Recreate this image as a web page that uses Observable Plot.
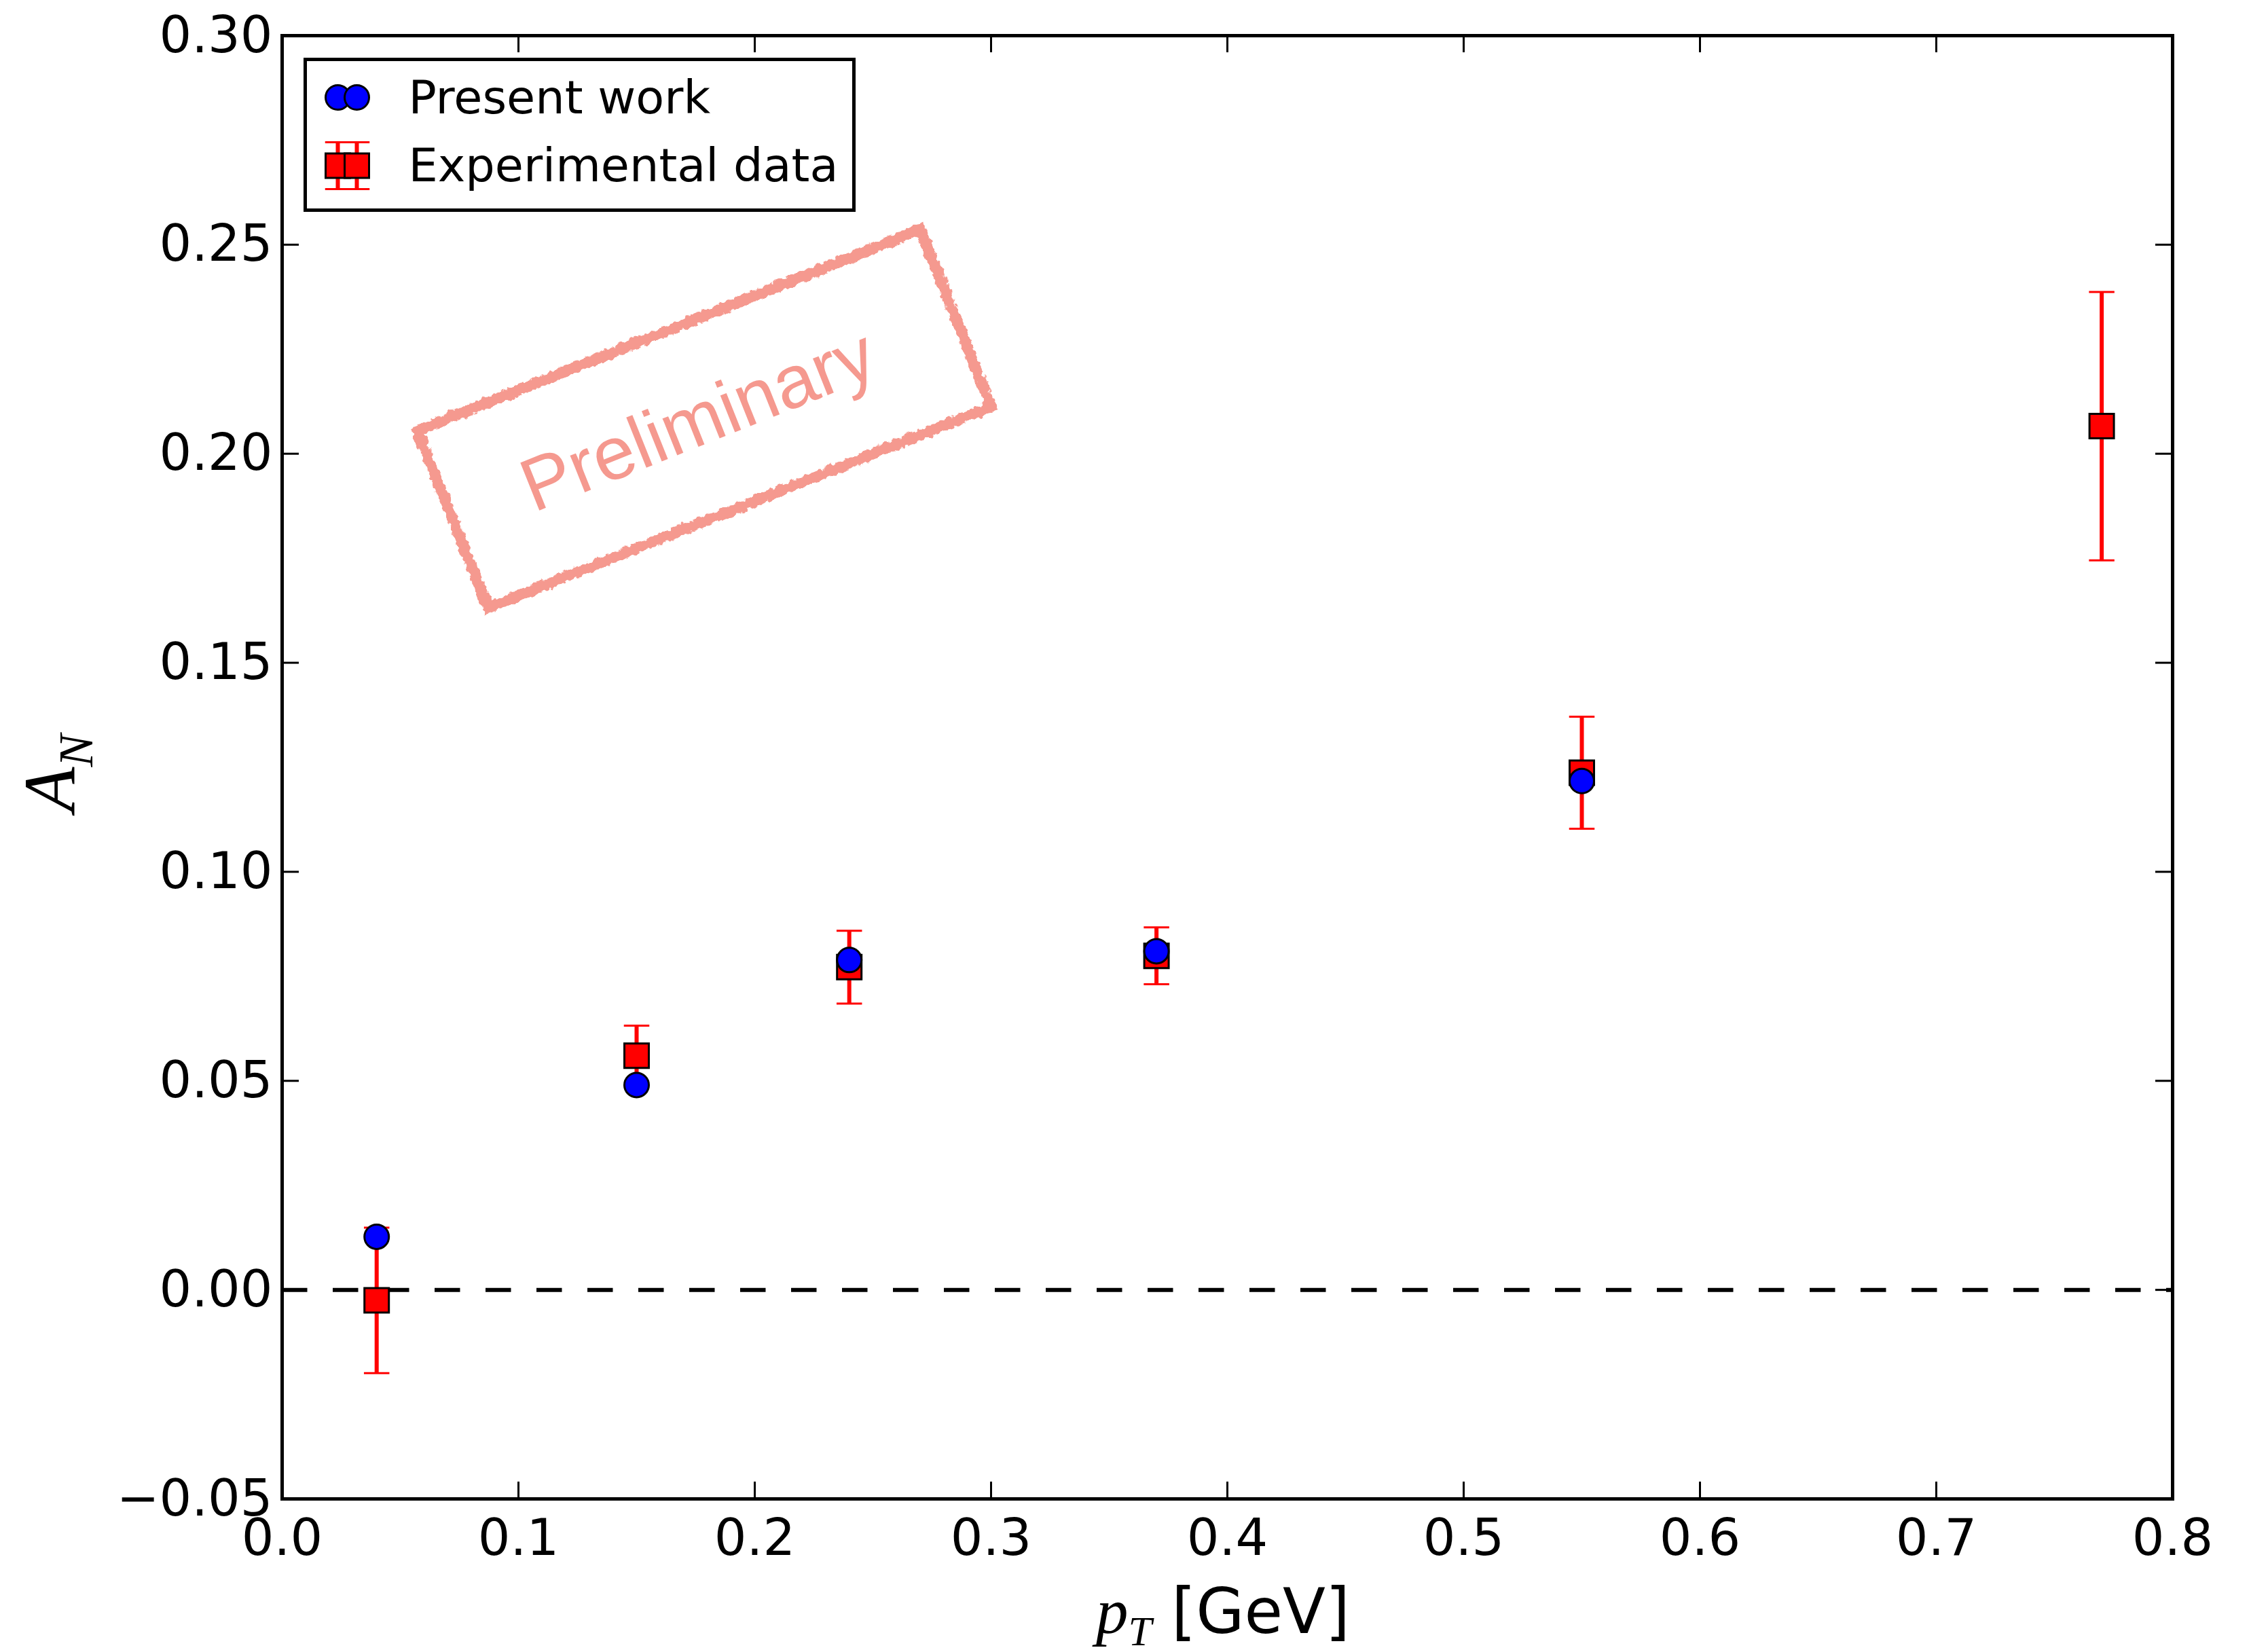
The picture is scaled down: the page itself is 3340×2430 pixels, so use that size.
<!DOCTYPE html>
<html>
<head>
<meta charset="utf-8">
<script src="https://cdn.jsdelivr.net/npm/d3@7"></script>
<script src="https://cdn.jsdelivr.net/npm/@observablehq/plot@0.6"></script>
<style>
  html, body { margin: 0; padding: 0; background: #ffffff; overflow: hidden; }
  #chart svg { display: block; }
</style>
</head>
<body>
<div id="chart"></div>
<script>
// ---------------- data ----------------
const expPT   = [0.04, 0.15, 0.24, 0.37, 0.55, 0.77];
const expAN   = [-0.0025, 0.056, 0.0772, 0.0799, 0.1237, 0.2066];
const expErr  = [0.0174, 0.0072, 0.0087, 0.0068, 0.0134, 0.0321];

const modelPT = [0.04, 0.15, 0.24, 0.37, 0.55];
const modelAN = [0.0127, 0.049, 0.0789, 0.081, 0.1217];

const xTicks = [0.0, 0.1, 0.2, 0.3, 0.4, 0.5, 0.6, 0.7, 0.8];
const yTicks = [-0.05, 0.0, 0.05, 0.10, 0.15, 0.20, 0.25, 0.30];
const xDomain = [0, 0.8];
const yDomain = [-0.05, 0.30];
const zeroLine = [0];

const legendLabels = ["Present work", "Experimental data"];
const stampLabel = "Preliminary";
const stampBoxCenter = [0.1786, 0.2084];   // data coords
const stampTextCenter = [0.1761, 0.2078];  // data coords

// ---------------- layout / style ----------------
const W = 3340, H = 2430;
const M = {left: 415, right: 141, top: 52, bottom: 223};
const plotW = W - M.left - M.right;
const plotH = H - M.top - M.bottom;
const TICK = 25;
const RED = "#ff0000", BLUE = "#0000ff", STAMP = "#f5998f";

const expData = expPT.map((x, i) => ({x, y: expAN[i], lo: expAN[i] - expErr[i], hi: expAN[i] + expErr[i]}));
const modelData = modelPT.map((x, i) => ({x, y: modelAN[i]}));

const capSymbol = {draw(ctx) { ctx.moveTo(-18.75, 0); ctx.lineTo(18.75, 0); }};
const legBar = {draw(ctx) { ctx.moveTo(0, -34.5); ctx.lineTo(0, 34.5); }};
const legCaps = {draw(ctx) {
  ctx.moveTo(-18.75, -34.5); ctx.lineTo(18.75, -34.5);
  ctx.moveTo(-18.75, 34.5); ctx.lineTo(18.75, 34.5);
}};
const stampRect = {draw(ctx) {
  const w = 399, h = 140.5;
  ctx.moveTo(-w, -h); ctx.lineTo(w, -h); ctx.lineTo(w, h); ctx.lineTo(-w, h); ctx.closePath();
}};
const STAMP_ANGLE = -21.8;

// legend geometry relative to the frame's top-left corner
const legX = [82, 110];
const legendMarks = [
  Plot.frame({fill: "white", stroke: "black", strokeWidth: 5,
    insetLeft: 34, insetTop: 35, insetRight: plotW - 842, insetBottom: plotH - 257}),
];
for (const dx of legX) {
  legendMarks.push(
    Plot.dot([legendLabels[1]], {frameAnchor: "top-left", dx, dy: 191.5, symbol: legBar, r: 1, fill: "none", stroke: RED, strokeWidth: 6}),
    Plot.dot([legendLabels[1]], {frameAnchor: "top-left", dx, dy: 191.5, symbol: legCaps, r: 1, fill: "none", stroke: RED, strokeWidth: 3})
  );
}
for (const dx of legX) {
  legendMarks.push(
    Plot.dot([legendLabels[1]], {frameAnchor: "top-left", dx, dy: 191.5, symbol: "square", r: 20.3, fill: RED, stroke: "black", strokeWidth: 3}),
    Plot.dot([legendLabels[0]], {frameAnchor: "top-left", dx, dy: 91, symbol: "circle", r: 18, fill: BLUE, stroke: "black", strokeWidth: 3})
  );
}
legendMarks.push(
  Plot.text([legendLabels[0]], {frameAnchor: "top-left", dx: 186, dy: 93, text: d => d, textAnchor: "start", lineAnchor: "middle", fontSize: 68.5, fill: "black"}),
  Plot.text([legendLabels[1]], {frameAnchor: "top-left", dx: 186, dy: 193, text: d => d, textAnchor: "start", lineAnchor: "middle", fontSize: 68.5, fill: "black"})
);

const chart = Plot.plot({
  width: W, height: H,
  marginLeft: M.left, marginRight: M.right, marginTop: M.top, marginBottom: M.bottom,
  style: {fontFamily: "'DejaVu Sans', sans-serif", fontSize: "75px", background: "white", overflow: "visible", color: "black"},
  x: {domain: xDomain},
  y: {domain: yDomain},
  marks: [
    // stamp
    Plot.dot([stampBoxCenter], {x: d => d[0], y: d => d[1], symbol: stampRect, r: 1, rotate: STAMP_ANGLE,
      fill: "none", stroke: STAMP, strokeWidth: 16, className: "stamp-rect"}),
    Plot.text([stampTextCenter], {x: d => d[0], y: d => d[1], text: () => stampLabel, rotate: STAMP_ANGLE,
      fontFamily: "'Liberation Sans', Arial, sans-serif", fontSize: 110, fill: STAMP, textAnchor: "middle", lineAnchor: "middle"}),
    // zero line
    Plot.ruleY(zeroLine, {y: d => d, stroke: "black", strokeWidth: 6, strokeDasharray: "37.5,37.5"}),
    // error bars
    Plot.ruleX(expData, {x: "x", y1: "lo", y2: "hi", stroke: RED, strokeWidth: 6}),
    Plot.dot(expData, {x: "x", y: "hi", symbol: capSymbol, r: 1, fill: "none", stroke: RED, strokeWidth: 3}),
    Plot.dot(expData, {x: "x", y: "lo", symbol: capSymbol, r: 1, fill: "none", stroke: RED, strokeWidth: 3}),
    // markers
    Plot.dot(expData, {x: "x", y: "y", symbol: "square", r: 20.3, fill: RED, stroke: "black", strokeWidth: 3}),
    Plot.dot(modelData, {x: "x", y: "y", symbol: "circle", r: 18, fill: BLUE, stroke: "black", strokeWidth: 3}),
    // inward ticks on all four sides
    Plot.tickX(xTicks, {x: d => d, insetTop: plotH - TICK, stroke: "black", strokeWidth: 3}),
    Plot.tickX(xTicks, {x: d => d, insetBottom: plotH - TICK, stroke: "black", strokeWidth: 3}),
    Plot.tickY(yTicks, {y: d => d, insetRight: plotW - TICK, stroke: "black", strokeWidth: 3}),
    Plot.tickY(yTicks, {y: d => d, insetLeft: plotW - TICK, stroke: "black", strokeWidth: 3}),
    // tick labels
    Plot.axisX({ticks: xTicks, tickSize: 0, tickPadding: 29, tickFormat: d3.format(".1f"), label: null, fontSize: 75}),
    Plot.axisY({ticks: yTicks, tickSize: 0, tickPadding: 14, tickFormat: d3.format(".2f"), label: null, fontSize: 75}),
    // frame
    Plot.frame({stroke: "black", strokeWidth: 5}),
    // legend
    ...legendMarks
  ]
});

document.getElementById("chart").appendChild(chart);

// sketchy edge for the stamp rectangle
const svg = d3.select(chart);
const defs = svg.insert("defs", ":first-child");
const f = defs.append("filter").attr("id", "rough")
  .attr("x", "-5%").attr("y", "-5%").attr("width", "110%").attr("height", "110%");
f.append("feTurbulence").attr("type", "fractalNoise").attr("baseFrequency", "0.12")
  .attr("numOctaves", 2).attr("seed", 4).attr("result", "noise");
f.append("feDisplacementMap").attr("in", "SourceGraphic").attr("in2", "noise")
  .attr("scale", 10).attr("xChannelSelector", "R").attr("yChannelSelector", "G");
svg.selectAll(".stamp-rect").attr("filter", "url(#rough)");

// axis titles (math-style)
const xs = chart.scale("x"), ys = chart.scale("y");
const cx = (xs.apply(xDomain[0]) + xs.apply(xDomain[1])) / 2;
const cy = (ys.apply(yDomain[0]) + ys.apply(yDomain[1])) / 2;

const xl = svg.append("text")
  .attr("x", cx - 6).attr("y", H - 25)
  .attr("text-anchor", "middle").attr("fill", "black");
xl.append("tspan").attr("font-family", "'Liberation Serif', 'DejaVu Serif', serif")
  .attr("font-style", "italic").attr("font-size", 95).text("p");
xl.append("tspan").attr("font-family", "'Liberation Serif', 'DejaVu Serif', serif")
  .attr("font-style", "italic").attr("font-size", 62).attr("dy", 18).text("T");
xl.append("tspan").attr("font-family", "'DejaVu Sans', sans-serif")
  .attr("font-size", 92).attr("dy", -18).text("\u00a0[GeV]");

const yl = svg.append("text")
  .attr("transform", `translate(110,${cy + 9}) rotate(-90)`)
  .attr("text-anchor", "middle").attr("fill", "black")
  .attr("font-family", "'Liberation Serif', 'DejaVu Serif', serif").attr("font-style", "italic");
yl.append("tspan").attr("font-size", 108).text("A");
yl.append("tspan").attr("font-size", 72).attr("dy", 26).text("N");
</script>
</body>
</html>
